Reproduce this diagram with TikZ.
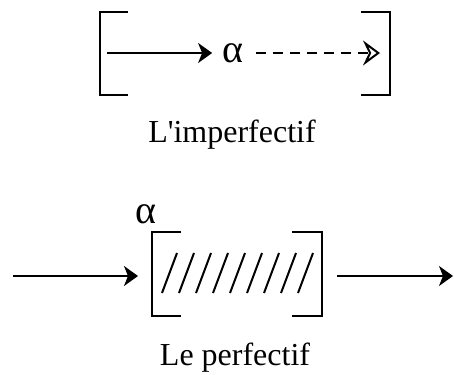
\documentclass[tikz,border=0pt]{standalone}
\usepackage{fontspec}
\setmainfont{Liberation Serif}
\usetikzlibrary{arrows.meta}

\tikzset{
  bracket/.style={line width=1pt},
  flow/.style={line width=1pt,-{Stealth[length=7pt,width=10pt,inset=2pt]}},
  virtual/.style={line width=1pt,dash pattern=on 5pt off 3.5pt,-{Stealth[open,length=8.5pt,width=12.5pt,inset=3pt]}},
  hatch/.style={line width=1pt},
  caption/.style={font=\fontsize{16}{19}\selectfont,anchor=base},
  letter/.style={font=\fontsize{20}{24}\selectfont,inner sep=0pt}
}

\begin{document}
\begin{tikzpicture}[x=0.5pt,y=-0.5pt]
      \useasboundingbox (0,0) rectangle (454,374);

      % L'imperfectif: open interval
      \draw[bracket] (128,12) -- (100,12) -- (100,95) -- (128,95);
      \draw[bracket] (361,12) -- (390,12) -- (390,95) -- (361,95);

      \coordinate (istart) at (107,53);
      \node[letter] (ialpha) at (233,53) {α};
      \coordinate (iend) at (380,53);

      \draw[flow] (istart) -- ([xshift=-5pt]ialpha.west);
      \draw[virtual] ([xshift=6pt]ialpha.east) -- (iend);

      \node[caption] (icap) at (232,142) {L\textquotesingle imperfectif};

      % Le perfectif: closed interval
      \node[letter] (palpha) at (146,214) {α};

      \draw[bracket] (181,232) -- (152,232) -- (152,316) -- (181,316);
      \draw[bracket] (292,232) -- (322,232) -- (322,316) -- (292,316);

      \foreach \i in {0,...,8}
        \draw[hatch] (162+17*\i,293) -- (177+17*\i,253);

      \coordinate (pin) at (13,276);
      \coordinate (pleft) at (138,276);
      \coordinate (pright) at (337,276);
      \coordinate (pout) at (453,276);

      \draw[flow] (pin) -- (pleft);
      \draw[flow] (pright) -- (pout);

      \node[caption] (pcap) at (235,365) {Le perfectif};
\end{tikzpicture}
\end{document}
